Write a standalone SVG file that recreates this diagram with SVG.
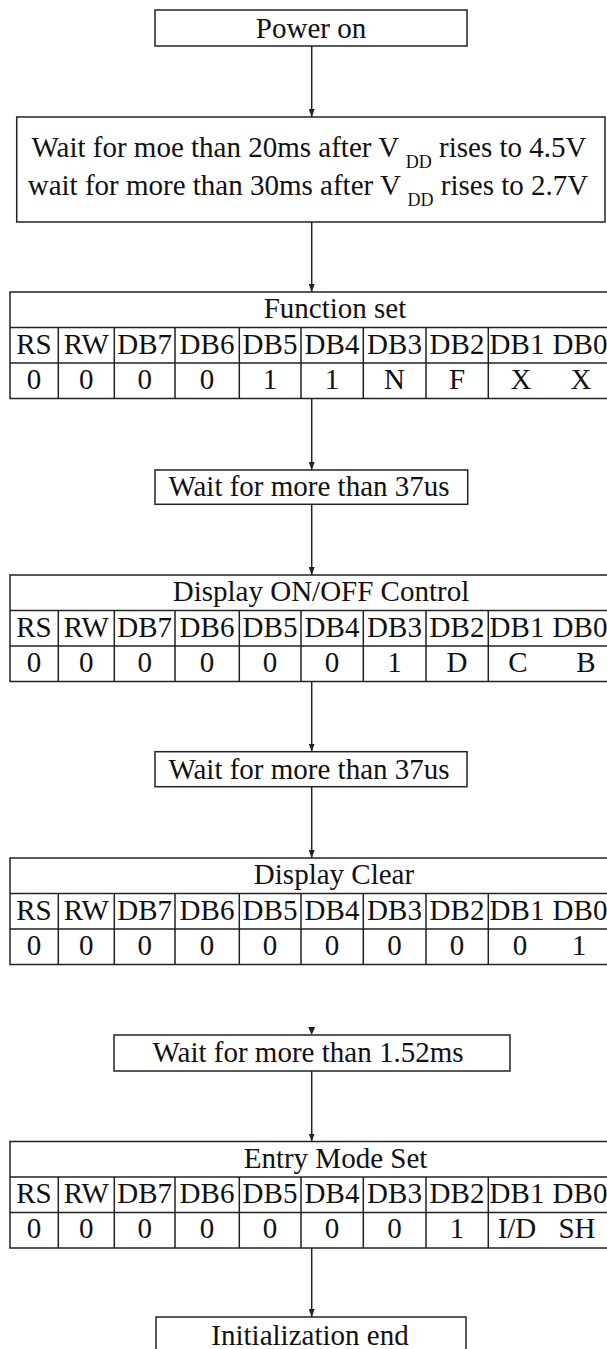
<svg xmlns="http://www.w3.org/2000/svg" width="607" height="1349" viewBox="0 0 607 1349">
<style>
.box{fill:#fff;stroke:#222;stroke-width:1.5}
.ln{stroke:#222;stroke-width:1.5;fill:none}
text{font-family:"Liberation Serif","Times New Roman",serif;font-size:29px;fill:#111;text-anchor:middle}
.sub{font-size:18px}
</style>
<defs>
<marker id="ah" viewBox="0 0 8 6" refX="8" refY="3" markerWidth="8" markerHeight="6" markerUnits="userSpaceOnUse" orient="auto">
<path d="M0,0 L8,3 L0,6 z" fill="#222"/>
</marker>
<g id="grid">
<rect class="box" x="10" y="0" width="670" height="106.5"/>
<path class="ln" d="M10 35.5H680 M10 71H680 M58.3 35.5V106.5 M114.3 35.5V106.5 M175 35.5V106.5 M239.3 35.5V106.5 M301 35.5V106.5 M363.3 35.5V106.5 M426 35.5V106.5 M488.3 35.5V106.5"/>
</g>
</defs>
<rect width="607" height="1349" fill="#fff"/>

<g id="connectors">
<path class="ln" marker-end="url(#ah)" d="M311.7 46V117"/>
<path class="ln" marker-end="url(#ah)" d="M311.7 222V292"/>
<path class="ln" marker-end="url(#ah)" d="M311.7 398.5V470"/>
<path class="ln" marker-end="url(#ah)" d="M311.7 504.3V575"/>
<path class="ln" marker-end="url(#ah)" d="M311.7 681.5V751.7"/>
<path class="ln" marker-end="url(#ah)" d="M311.7 786.7V858"/>
<polygon points="308.2,1027 315.2,1027 311.7,1035" fill="#222"/>
<path class="ln" marker-end="url(#ah)" d="M311.7 1071V1141.5"/>
<path class="ln" marker-end="url(#ah)" d="M311.7 1248V1317"/>
</g>

<g id="power-on">
<rect class="box" x="155" y="10" width="312" height="36"/>
<text x="311" y="38">Power on</text>
</g>

<g id="wait-vdd">
<rect class="box" x="16.7" y="117" width="588.3" height="105"/>
<text x="309" y="157">Wait for moe than 20ms after V <tspan class="sub" dy="11">DD</tspan><tspan dy="-11"> rises to 4.5V</tspan></text>
<text x="308" y="195">wait for more than 30ms after V <tspan class="sub" dy="11">DD</tspan><tspan dy="-11"> rises to 2.7V</tspan></text>
</g>

<g id="function-set">
<use href="#grid" y="292"/>
<text x="335" y="318">Function set</text>
<text x="34" y="353.5">RS</text><text x="86.3" y="353.5">RW</text><text x="144.7" y="353.5">DB7</text><text x="207" y="353.5">DB6</text><text x="270" y="353.5">DB5</text><text x="332" y="353.5">DB4</text><text x="394.5" y="353.5">DB3</text><text x="457" y="353.5">DB2</text><text x="517" y="353.5">DB1</text><text x="580" y="353.5">DB0</text>
<text x="34" y="389">0</text><text x="86.3" y="389">0</text><text x="144.7" y="389">0</text><text x="207" y="389">0</text><text x="270" y="389">1</text><text x="332" y="389">1</text><text x="394.5" y="389">N</text><text x="457" y="389">F</text><text x="521" y="389">X</text><text x="581" y="389">X</text>
</g>

<g id="wait-37us-1">
<rect class="box" x="155" y="470" width="312.7" height="34.3"/>
<text x="309" y="496">Wait for more than 37us</text>
</g>

<g id="display-on-off">
<use href="#grid" y="575"/>
<text x="321" y="601">Display ON/OFF Control</text>
<text x="34" y="636.5">RS</text><text x="86.3" y="636.5">RW</text><text x="144.7" y="636.5">DB7</text><text x="207" y="636.5">DB6</text><text x="270" y="636.5">DB5</text><text x="332" y="636.5">DB4</text><text x="394.5" y="636.5">DB3</text><text x="457" y="636.5">DB2</text><text x="517" y="636.5">DB1</text><text x="580" y="636.5">DB0</text>
<text x="34" y="672">0</text><text x="86.3" y="672">0</text><text x="144.7" y="672">0</text><text x="207" y="672">0</text><text x="270" y="672">0</text><text x="332" y="672">0</text><text x="394.5" y="672">1</text><text x="457" y="672">D</text><text x="518" y="672">C</text><text x="586" y="672">B</text>
</g>

<g id="wait-37us-2">
<rect class="box" x="155" y="751.7" width="312" height="35"/>
<text x="309" y="778.5">Wait for more than 37us</text>
</g>

<g id="display-clear">
<use href="#grid" y="858"/>
<text x="334" y="884">Display Clear</text>
<text x="34" y="919.5">RS</text><text x="86.3" y="919.5">RW</text><text x="144.7" y="919.5">DB7</text><text x="207" y="919.5">DB6</text><text x="270" y="919.5">DB5</text><text x="332" y="919.5">DB4</text><text x="394.5" y="919.5">DB3</text><text x="457" y="919.5">DB2</text><text x="517" y="919.5">DB1</text><text x="580" y="919.5">DB0</text>
<text x="34" y="955">0</text><text x="86.3" y="955">0</text><text x="144.7" y="955">0</text><text x="207" y="955">0</text><text x="270" y="955">0</text><text x="332" y="955">0</text><text x="394.5" y="955">0</text><text x="457" y="955">0</text><text x="520" y="955">0</text><text x="579" y="955">1</text>
</g>

<g id="wait-1-52ms">
<rect class="box" x="114" y="1035" width="396" height="36"/>
<text x="308" y="1062">Wait for more than 1.52ms</text>
</g>

<g id="entry-mode-set">
<use href="#grid" y="1141.5"/>
<text x="335.5" y="1167.5">Entry Mode Set</text>
<text x="34" y="1202.5">RS</text><text x="86.3" y="1202.5">RW</text><text x="144.7" y="1202.5">DB7</text><text x="207" y="1202.5">DB6</text><text x="270" y="1202.5">DB5</text><text x="332" y="1202.5">DB4</text><text x="394.5" y="1202.5">DB3</text><text x="457" y="1202.5">DB2</text><text x="517" y="1202.5">DB1</text><text x="580" y="1202.5">DB0</text>
<text x="34" y="1237.5">0</text><text x="86.3" y="1237.5">0</text><text x="144.7" y="1237.5">0</text><text x="207" y="1237.5">0</text><text x="270" y="1237.5">0</text><text x="332" y="1237.5">0</text><text x="394.5" y="1237.5">0</text><text x="457" y="1237.5">1</text><text x="517" y="1237.5">I/D</text><text x="577" y="1237.5">SH</text>
</g>

<g id="init-end">
<rect class="box" x="156" y="1317" width="310" height="60"/>
<text x="310" y="1345">Initialization end</text>
</g>
</svg>
